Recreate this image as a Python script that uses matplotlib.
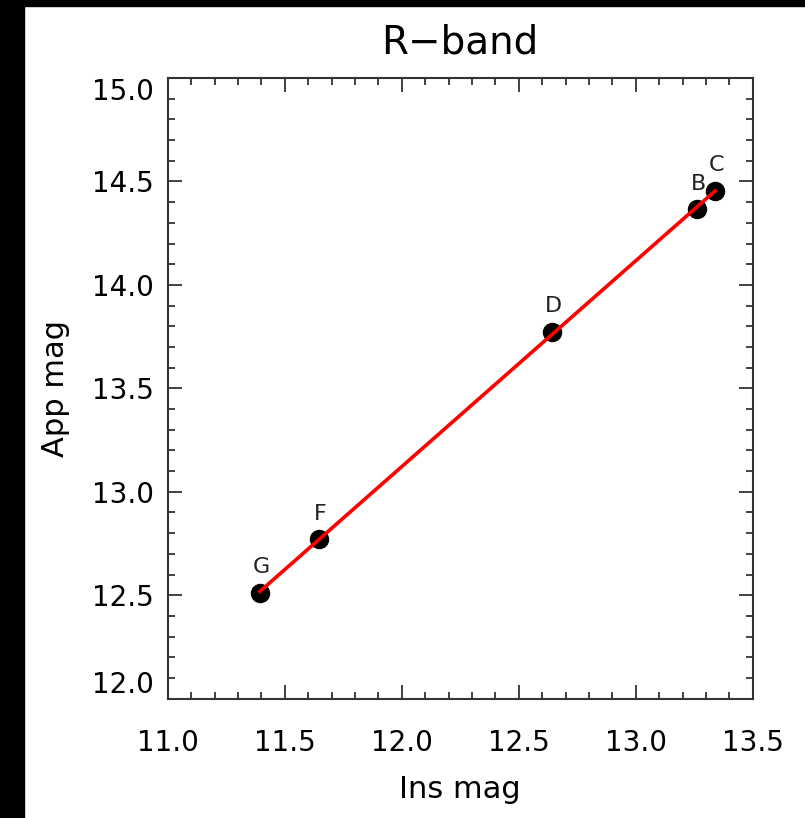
import numpy as np
import matplotlib
matplotlib.use("Agg")
import matplotlib.pyplot as plt
import matplotlib.ticker as ticker
from matplotlib.patches import Rectangle

# star photometry, R band
star_names = ["G", "F", "D", "B", "C"]
ins_mag = [11.394, 11.645, 12.641, 13.261, 13.339]
app_mag = [12.512, 12.770, 13.774, 14.365, 14.455]

plt.rcParams['font.family'] = ['DejaVu Sans']

fig = plt.figure(figsize=(8.05, 8.18), dpi=100)
W, H = 805, 818
ax = fig.add_axes([167.7 / W, 1 - 698.7 / H, 585 / W, 620.7 / H])

# linear calibration fit through the stars
coef = np.polyfit(ins_mag, app_mag, 1)
xfit = np.array([min(ins_mag), max(ins_mag)])
ax.plot(xfit, np.polyval(coef, xfit), color="red", lw=2.6, zorder=3)
ax.plot(ins_mag, app_mag, "o", color="black", ms=13, zorder=2)

for name, x, y in zip(star_names, ins_mag, app_mag):
    ax.annotate(name, (x, y), xytext=(1, 11), textcoords="offset points",
                ha="center", va="bottom", fontsize=16, color="#222222")

ymin, ymax = 12.0, 15.0
ax.set_xlim(11.0, 13.5)
ax.set_ylim(ymin, ymax)
ax.xaxis.set_major_locator(ticker.MultipleLocator(0.5))
ax.xaxis.set_minor_locator(ticker.MultipleLocator(0.1))
ax.yaxis.set_major_locator(ticker.MultipleLocator(0.5))
ax.yaxis.set_minor_locator(ticker.MultipleLocator(0.1))
ax.xaxis.set_major_formatter(ticker.FormatStrFormatter("%.1f"))


def ylab(v, pos):
    # end labels are drawn separately so they sit inside the box
    if abs(v - ymin) < 1e-6 or abs(v - ymax) < 1e-6:
        return ""
    return "%.1f" % v


ax.yaxis.set_major_formatter(ticker.FuncFormatter(ylab))
ax.tick_params(which="both", direction="in", top=True, right=True,
               width=1.3, color="#333333")
ax.tick_params(which="major", length=10)
ax.tick_params(which="minor", length=5)
ax.tick_params(axis="x", which="major", pad=22, labelsize=20)
ax.tick_params(axis="y", which="major", pad=10, labelsize=20)
for s in ax.spines.values():
    s.set_linewidth(1.5)
    s.set_color("#333333")

ytrans = ax.get_yaxis_transform()
xoff = -14 / 585
ax.text(xoff, ymin, "%.1f" % ymin, transform=ytrans, ha="right", va="bottom",
        fontsize=20)
ax.text(xoff, ymax, "%.1f" % ymax, transform=ytrans, ha="right", va="top",
        fontsize=20)

ax.set_xlabel("Ins mag", fontsize=22, va="center")
ax.xaxis.set_label_coords(0.5, (698.7 - 790) / 620.7)
ax.set_ylabel("App mag", fontsize=22, va="center")
ax.yaxis.set_label_coords((55 - 167.7) / 585, 0.5)

fig.text(460 / W, 1 - 43 / H, "R\u2212band", fontsize=28, ha="center", va="center")

# black frame on the left and top edges
fig.patches.append(Rectangle((0, 0), 24 / W, 1, transform=fig.transFigure,
                             color="black", zorder=10))
fig.patches.append(Rectangle((0, 1 - 6 / H), 1, 6 / H, transform=fig.transFigure,
                             color="black", zorder=10))

fig.savefig("out.png", dpi=100)
